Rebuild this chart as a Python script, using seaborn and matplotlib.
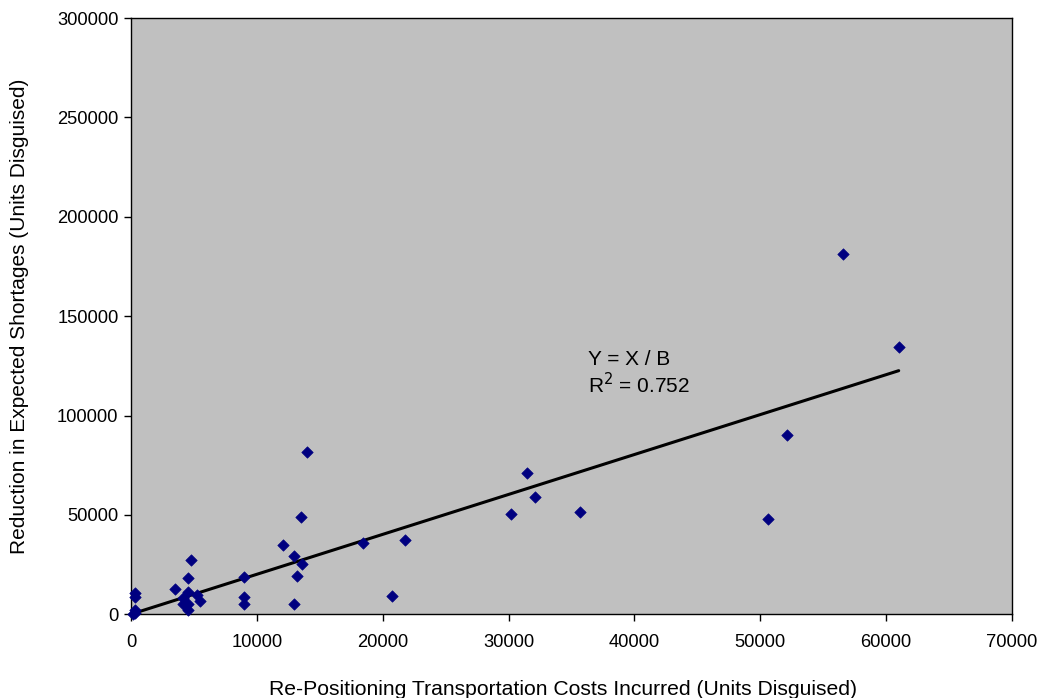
import numpy as np
import pandas as pd
import seaborn as sns
import matplotlib.pyplot as plt

# data
costs = [300, 300, 300, 300, 150,
         3500, 4740, 4500, 4500, 4160, 4160, 4500, 4500, 5270, 5480,
         8980, 8980, 8980, 12070, 12920, 13530, 13560, 13180, 12920, 14000,
         18400, 21740, 20780,
         30200, 31500, 32100, 35700,
         50600, 52100, 56600, 61000]
shortages = [10900, 8500, 1900, 600, 0,
             12700, 27200, 18100, 11200, 8400, 5000, 5000, 2000, 9600, 6700,
             18700, 8700, 5200, 34700, 29200, 48700, 25400, 19000, 5300, 81900,
             35900, 37600, 9200,
             50600, 71100, 59000, 51700,
             48000, 90400, 181200, 134500]

df = pd.DataFrame({'cost': costs, 'shortage': shortages})

# trend line through the origin
slope = (df['cost'] * df['shortage']).sum() / (df['cost'] ** 2).sum()
line_x = np.array([0, df['cost'].max()])
trend = pd.DataFrame({'cost': line_x, 'shortage': slope * line_x})

sns.set_style('white')
plt.rcParams['font.family'] = ['Liberation Sans', 'DejaVu Sans']
plt.rcParams['text.color'] = 'black'
plt.rcParams['axes.labelcolor'] = 'black'
plt.rcParams['xtick.color'] = 'black'
plt.rcParams['ytick.color'] = 'black'

fig = plt.figure(figsize=(10.39, 6.98), dpi=100)
ax = fig.add_axes([0.126, 0.120, 0.848, 0.854])
ax.set_facecolor('#C0C0C0')

sns.lineplot(data=trend, x='cost', y='shortage', color='black', linewidth=2.2, ax=ax)
sns.scatterplot(data=df, x='cost', y='shortage', marker='D', color='#000080',
                edgecolor='#000080', s=34, ax=ax, zorder=3, clip_on=False)

ax.set_xlim(0, 70000)
ax.set_ylim(0, 300000)
ax.set_xticks(range(0, 70001, 10000))
ax.set_yticks(range(0, 300001, 50000))
ax.tick_params(axis='both', direction='out', length=5, width=1, color='black',
               labelsize=13.2, bottom=True, left=True)
ax.tick_params(axis='y', pad=4)
ax.tick_params(axis='x', pad=9)
for s in ax.spines.values():
    s.set_color('black')
    s.set_linewidth(1)

ax.set_xlabel('Re-Positioning Transportation Costs Incurred (Units Disguised)', fontsize=15.2)
ax.set_ylabel('Reduction in Expected Shortages (Units Disguised)', fontsize=15, labelpad=20)
ax.xaxis.set_label_coords(0.49, -0.11)

ax.text(36300, 133000, 'Y = X / B\nR$^2$ = 0.752', fontsize=15, linespacing=1.15, va='top')

fig.savefig('out.png', dpi=100)
